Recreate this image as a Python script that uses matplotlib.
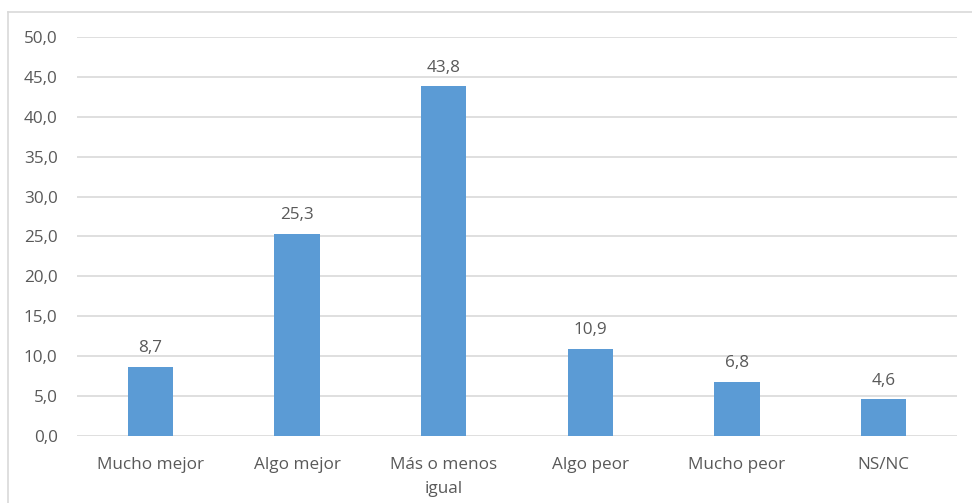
import matplotlib
matplotlib.use("Agg")
from matplotlib import pyplot as plt
from matplotlib.lines import Line2D

categories = ["Mucho mejor", "Algo mejor", "Más o menos\nigual", "Algo peor", "Mucho peor", "NS/NC"]
values = [8.7, 25.3, 43.8, 10.9, 6.8, 4.6]
yticks = [0, 5, 10, 15, 20, 25, 30, 35, 40, 45, 50]

bar_color = "#5B9BD5"
text_color = "#595959"
grid_color = "#D9D9D9"

plt.rcParams["font.family"] = ["Open Sans", "DejaVu Sans"]
fs = 12.3

fig = plt.figure(figsize=(9.72, 5.03), dpi=100)
ax = fig.add_axes([77 / 972, 1 - 436 / 503, 880 / 972, 399 / 503])

x = list(range(len(categories)))
ax.bar(x, values, width=0.31, color=bar_color, zorder=3)
for xi, v in zip(x, values):
    ax.text(xi, v + 1.35, f"{v:.1f}".replace(".", ","), ha="center", va="bottom",
            fontsize=fs, color=text_color)

ax.set_xlim(-0.5, len(categories) - 0.5)
ax.set_ylim(0, 50)
ax.set_yticks(yticks)
ax.set_yticklabels([f"{t:.1f}".replace(".", ",") for t in yticks], fontsize=fs, color=text_color)
ax.set_xticks(x)
ax.set_xticklabels(categories, fontsize=fs, color=text_color, linespacing=1.65,
                   multialignment="center")
ax.grid(axis="y", color=grid_color, linewidth=1.2, zorder=0)
ax.tick_params(axis="both", length=0)
ax.tick_params(axis="y", pad=14)
ax.tick_params(axis="x", pad=15)
for s in ax.spines.values():
    s.set_visible(False)

# outer chart frame (top and left only visible)
fig.add_artist(Line2D([8 / 972, 1], [1 - 12 / 503, 1 - 12 / 503], transform=fig.transFigure,
                      color=grid_color, linewidth=1.2))
fig.add_artist(Line2D([8 / 972, 8 / 972], [0, 1 - 12 / 503], transform=fig.transFigure,
                      color=grid_color, linewidth=1.2))

fig.savefig("out.png", dpi=100)
